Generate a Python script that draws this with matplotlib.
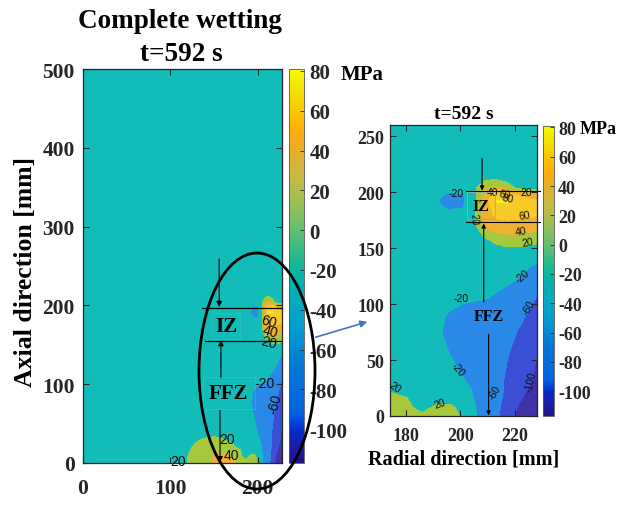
import numpy as np
import colorsys
import matplotlib
matplotlib.use("Agg")
import matplotlib.pyplot as plt
from matplotlib.colors import LinearSegmentedColormap, Normalize
from matplotlib.cm import ScalarMappable
from matplotlib.patches import Ellipse, FancyArrowPatch

plt.rcParams['axes.unicode_minus'] = False

# ---- MATLAB parula colormap (64 anchors) ----
PARULA = [
    (0.2081, 0.1663, 0.5292), (0.2116, 0.1898, 0.5777), (0.2123, 0.2138, 0.6270), (0.2081, 0.2386, 0.6771),
    (0.1959, 0.2645, 0.7279), (0.1707, 0.2919, 0.7792), (0.1253, 0.3242, 0.8303), (0.0591, 0.3598, 0.8683),
    (0.0117, 0.3875, 0.8820), (0.0060, 0.4086, 0.8828), (0.0165, 0.4266, 0.8786), (0.0329, 0.4430, 0.8720),
    (0.0498, 0.4586, 0.8641), (0.0629, 0.4737, 0.8554), (0.0723, 0.4887, 0.8467), (0.0779, 0.5040, 0.8384),
    (0.0793, 0.5200, 0.8312), (0.0749, 0.5375, 0.8263), (0.0641, 0.5570, 0.8240), (0.0488, 0.5772, 0.8228),
    (0.0343, 0.5966, 0.8199), (0.0265, 0.6137, 0.8135), (0.0239, 0.6287, 0.8038), (0.0231, 0.6418, 0.7913),
    (0.0228, 0.6535, 0.7768), (0.0267, 0.6642, 0.7607), (0.0384, 0.6743, 0.7436), (0.0590, 0.6838, 0.7254),
    (0.0843, 0.6928, 0.7062), (0.1133, 0.7015, 0.6859), (0.1453, 0.7098, 0.6646), (0.1801, 0.7177, 0.6424),
    (0.2178, 0.7250, 0.6193), (0.2586, 0.7317, 0.5954), (0.3022, 0.7376, 0.5712), (0.3482, 0.7424, 0.5473),
    (0.3953, 0.7459, 0.5244), (0.4420, 0.7481, 0.5033), (0.4871, 0.7491, 0.4840), (0.5300, 0.7491, 0.4661),
    (0.5709, 0.7485, 0.4494), (0.6099, 0.7473, 0.4337), (0.6473, 0.7456, 0.4188), (0.6834, 0.7435, 0.4044),
    (0.7184, 0.7411, 0.3905), (0.7525, 0.7384, 0.3768), (0.7858, 0.7356, 0.3633), (0.8185, 0.7327, 0.3498),
    (0.8507, 0.7299, 0.3360), (0.8824, 0.7274, 0.3217), (0.9139, 0.7258, 0.3063), (0.9450, 0.7261, 0.2886),
    (0.9739, 0.7314, 0.2666), (0.9938, 0.7455, 0.2403), (0.9990, 0.7653, 0.2164), (0.9955, 0.7861, 0.1967),
    (0.9880, 0.8066, 0.1794), (0.9789, 0.8271, 0.1633), (0.9697, 0.8481, 0.1475), (0.9626, 0.8705, 0.1309),
    (0.9589, 0.8949, 0.1132), (0.9598, 0.9218, 0.0948), (0.9661, 0.9514, 0.0755), (0.9763, 0.9831, 0.0538)]
SATURATION_BOOST = 1.25   # the reference picture is a bit more saturated than plain parula


def boost(c):
    h, s, v = colorsys.rgb_to_hsv(*c)
    return colorsys.hsv_to_rgb(h, min(1.0, s * SATURATION_BOOST), v)


parula = LinearSegmentedColormap.from_list('parula', [boost(c) for c in PARULA], N=256)

# fill colour of each contour band (as seen in the picture), lowest band first
BAND_COLORS = ['#4232a8', '#3a4ed6', '#2a88e6', '#12bdb9', '#a6c83c', '#f0b032', '#f8cb2a', '#f4ee22']

# ---- data: hoop stress field [MPa] ----
BACKGROUND = -2
R_OUTER = [0, 110]                         # far field columns (background)
R_NEAR = [120, 135, 150, 165, 174, 180, 186, 191, 196, 201, 205, 209, 213, 217, 221, 225, 228]
Z_NEAR = [0, 8, 16, 24, 32, 45, 60, 75, 90, 105, 120, 135, 150, 160, 170, 180, 186, 192, 198, 204, 212]
Z_OUTER = [230, 500]                       # far field rows (background)
STRESS_NEAR = [
    [22, 32, 41, 46, 42, 30, 24, 26, 25, 18, -16, -34, -54, -76, -112, -114, -115],   # z=0
    [20, 30, 41, 44, 32, 24, 14, 22, 24, 14, -18, -32, -52, -72, -102, -112, -114],   # z=8
    [18, 28, 34, 36, 26, 21, 10, 13, 12, 0, -21, -30, -50, -68, -94, -108, -112],     # z=16
    [14, 26, 30, 26, 17, 12, 4, 0, -6, -14, -22, -30, -46, -66, -86, -102, -108],      # z=24
    [8, 18, 22, 16, 8, 4, -2, -6, -12, -19, -25, -32, -46, -66, -80, -96, -104],       # z=32
    [0, 2, 4, 2, -2, -4, -8, -12, -17, -24, -30, -36, -44, -61, -72, -92, -103],       # z=45
    [-2, -2, -2, -3, -4, -6, -10, -15, -21, -27, -32, -38, -46, -56, -68, -84, -96],   # z=60
    [-2, -2, -2, -3, -4, -7, -12, -17, -24, -29, -33, -37, -43, -50, -61, -74, -84],   # z=75
    [-2, -2, -2, -3, -4, -6, -10, -15, -22, -27, -30, -33, -38, -44, -52, -63, -72],   # z=90
    [-2, -2, -2, -2, -3, -4, -6, -10, -14, -17, -18, -19, -23, -30, -38, -52, -62],    # z=105
    [-2, -2, -2, -2, -2, -3, -4, -5, -8, -10, -11, -12, -14, -17, -22, -30, -38],      # z=120
    [-2, -2, -2, -2, -2, -2, -3, -3, -4, -5, -6, -6, -8, -10, -13, -18, -22],          # z=135
    [-2, -2, -2, -2, -2, -2, -2, -3, -4, -3, 0, 6, 14, 18, 18, 16, 12],                # z=150
    [-2, -2, -2, -2, -2, -2, -3, -4, -3, 2, 10, 21, 30, 36, 36, 34, 32],               # z=160
    [-2, -2, -2, -2, -2, -3, -4, -5, -4, 2, 14, 46, 52, 54, 52, 50, 48],               # z=170
    [-2, -2, -2, -2, -3, -5, -8, -10, -8, 0, 16, 50, 64, 66, 66, 64, 62],              # z=180
    [-2, -2, -2, -2, -3, -6, -9, -14, -24, -21, 16, 52, 68, 72, 68, 65, 63],           # z=186
    [-2, -2, -2, -2, -3, -6, -10, -18, -30, -26, 14, 50, 82, 82, 70, 66, 64],          # z=192
    [-2, -2, -2, -2, -3, -6, -9, -14, -24, -21, 12, 46, 68, 68, 56, 48, 44],           # z=198
    [-2, -2, -2, -2, -2, -5, -6, -8, -10, -8, 14, 38, 40, 34, 14, 12, 8],              # z=204
    [-2, -2, -2, -2, -2, -4, -4, -4, -4, -3, 4, 16, 18, 10, 4, 0, -2],                 # z=212
]
CLIM = (-117, 81)
CONTOUR_LEVELS = [-100, -60, -20, 20, 40, 60, 80]
CBAR_TICKS = [80, 60, 40, 20, 0, -20, -40, -60, -80, -100]

LEFT_XTICKS = [0, 100, 200]
LEFT_YTICKS = [0, 100, 200, 300, 400, 500]
RIGHT_XTICKS = [180, 200, 220]
RIGHT_YTICKS = [0, 50, 100, 150, 200, 250]

# contour labels (text, r, z, rotation)
LEFT_LABELS = [("20", 109, 2, 0), ("20", 165, 31, 0), ("40", 170, 10, 0),
               ("60", 213, 180, -15), ("40", 214, 167, -15), ("20", 213, 153, -15),
               ("-20", 208, 102, 0), ("-60", 220, 76, 75)]
RIGHT_LABELS = [("-20", 198.5, 199, 0), ("40", 211.6, 200, 0), ("60", 216.3, 198, -10),
                ("80", 217.3, 194.5, -10), ("20", 224.2, 200, 0), ("20", 205.1, 176, -85),
                ("60", 223.3, 179.5, 10), ("40", 222.2, 165, 10), ("20", 224.4, 155, 10),
                ("-20", 222.6, 125, 40), ("-20", 200.4, 105, 0), ("-60", 225.1, 97, 60),
                ("-20", 198.9, 42, -50), ("-60", 212.4, 21, 60), ("-100", 225.8, 31, 78),
                ("20", 192.4, 11, 20), ("20", 176, 26, -35)]

# ---- assemble grid ----
R = np.array(R_OUTER + R_NEAR, dtype=float)
Z = np.array(Z_NEAR + Z_OUTER, dtype=float)
rows = [[BACKGROUND] * len(R_OUTER) + list(r) for r in STRESS_NEAR]
rows += [[BACKGROUND] * len(R) for _ in Z_OUTER]
S = np.array(rows, dtype=float)

norm = Normalize(*CLIM)
bounds = [-1e4] + CONTOUR_LEVELS + [1e4]

SERIF = 'Liberation Serif'
SANS = 'Liberation Sans'

W, H = 621, 506
fig = plt.figure(figsize=(W / 100, H / 100), dpi=100)


def rect(x0, y0, x1, y1):
    return [x0 / W, 1 - y1 / H, (x1 - x0) / W, (y1 - y0) / H]


def style_axes(ax, fs, xpad, ypad):
    ax.tick_params(direction='in', top=True, right=True, length=4, width=0.8, color='#262626')
    ax.tick_params(axis='x', pad=xpad)
    ax.tick_params(axis='y', pad=ypad)
    for lab in ax.get_xticklabels() + ax.get_yticklabels():
        lab.set_fontfamily(SERIF)
        lab.set_fontweight('bold')
        lab.set_fontsize(fs)
        lab.set_color('#262626')
    for sp in ax.spines.values():
        sp.set_linewidth(0.9)
        sp.set_color('#262626')


def colorbar(cax, fs, pad):
    cb = fig.colorbar(ScalarMappable(norm=norm, cmap=parula), cax=cax, ticks=CBAR_TICKS)
    cb.outline.set_linewidth(0.6)
    cb.outline.set_edgecolor('#555555')
    cax.tick_params(direction='in', length=3, width=0.6, pad=pad, color='#262626')
    cax.set_yticklabels([str(t) for t in CBAR_TICKS])
    for lab in cax.get_yticklabels():
        lab.set_fontfamily(SERIF)
        lab.set_fontweight('bold')
        lab.set_fontsize(fs)
        lab.set_color('#262626')
    return cb


def arrow(ax, x0, y0, x1, y1, ms=8):
    ax.annotate('', xy=(x1, y1), xytext=(x0, y0),
                arrowprops=dict(arrowstyle='-|>', color='black', lw=0.8,
                                mutation_scale=ms, shrinkA=0, shrinkB=0),
                annotation_clip=False)


# ================= left panel =================
axL = fig.add_axes(rect(83, 70, 282, 464))
axL.contourf(R, Z, S, levels=bounds, colors=BAND_COLORS)
axL.set_xlim(0, 228)
axL.set_ylim(0, 500)
axL.set_xticks(LEFT_XTICKS)
axL.set_yticks(LEFT_YTICKS)
style_axes(axL, 15.5, 11, 6)
for t, r, z, rot in LEFT_LABELS:
    axL.text(r, z, t, rotation=rot, ha='center', va='center', fontsize=10,
             family=SANS, color='#111111', rotation_mode='anchor')

axL.plot([136, 228], [197, 197], color='black', lw=0.9, clip_on=False)
axL.plot([140, 228], [155, 155], color='black', lw=0.9, clip_on=False)
arrow(axL, 156, 259, 156, 198)
arrow(axL, 158, 108, 158, 156)
arrow(axL, 157, 67, 157, 1)
axL.text(164, 174, 'IZ', ha='center', va='center', fontsize=15, family=SERIF, fontweight='bold',
         bbox=dict(boxstyle='square,pad=0.15', fc='none', ec='#4fc8cc', lw=0.4, alpha=0.7))
axL.text(167, 89, 'FFZ', ha='center', va='center', fontsize=15, family=SERIF, fontweight='bold',
         bbox=dict(boxstyle='square,pad=0.3', fc='none', ec='#4fc8cc', lw=0.4, alpha=0.7))

caxL = fig.add_axes(rect(289, 70, 304, 464))
colorbar(caxL, 15, 4)
fig.text(341 / W, 1 - 75 / H, 'MPa', ha='left', va='center', fontsize=15, family=SERIF, fontweight='bold')

fig.text(180 / W, 1 - 28 / H, 'Complete wetting', ha='center', va='baseline', fontsize=19.5,
         family=SERIF, fontweight='bold')
fig.text(181 / W, 1 - 61 / H, 't=592 s', ha='center', va='baseline', fontsize=19.5,
         family=SERIF, fontweight='bold')
fig.text(26 / W, 1 - 272 / H, 'Axial direction [mm]', ha='center', va='center', rotation=90,
         fontsize=18.5, family=SERIF, fontweight='bold')

# ================= right panel =================
axR = fig.add_axes(rect(390, 126, 537, 417))
axR.contourf(R, Z, S, levels=bounds, colors=BAND_COLORS)
axR.set_xlim(174.2, 228)
axR.set_ylim(0, 260)
axR.set_xticks(RIGHT_XTICKS)
axR.set_yticks(RIGHT_YTICKS)
style_axes(axR, 13, 8, 4)
for t, r, z, rot in RIGHT_LABELS:
    axR.text(r, z, t, rotation=rot, ha='center', va='center', fontsize=7.5,
             family=SANS, color='#111111', rotation_mode='anchor')

axR.plot([202.1, 229], [200.6, 200.6], color='black', lw=0.8, clip_on=False)
axR.plot([201.9, 229], [172.9, 172.9], color='black', lw=0.8, clip_on=False)
arrow(axR, 207.9, 230, 207.9, 201.5, ms=6)
arrow(axR, 208.5, 102, 208.5, 172, ms=6)
arrow(axR, 210.3, 73, 210.3, 0.5, ms=6)
axR.text(207.6, 188, 'IZ', ha='center', va='center', fontsize=11.5, family=SERIF, fontweight='bold',
         bbox=dict(boxstyle='square,pad=0.35', fc='none', ec='#9aaab0', lw=0.6))
axR.text(210.3, 89, 'FFZ', ha='center', va='center', fontsize=11.5, family=SERIF, fontweight='bold')

caxR = fig.add_axes(rect(543, 127, 554, 417))
colorbar(caxR, 13, 3)
fig.text(580 / W, 1 - 130 / H, 'MPa', ha='left', va='center', fontsize=13, family=SERIF, fontweight='bold')

axR.set_title('t=592 s', fontsize=14, family=SERIF, fontweight='bold', pad=5)
axR.set_xlabel('Radial direction [mm]', fontsize=14.5, family=SERIF, fontweight='bold', labelpad=3)

# ================= overlays =================
fig.add_artist(Ellipse((257 / W, 1 - 372 / H), 116 / W, 236 / H, transform=fig.transFigure,
                       fc='none', ec='black', lw=2.0))
fig.add_artist(FancyArrowPatch((313 / W, 1 - 339 / H), (370 / W, 1 - 322 / H),
                               transform=fig.transFigure, arrowstyle='-|>', mutation_scale=10,
                               color='#4472c4', lw=1.2))

fig.savefig('out.png', dpi=100)
